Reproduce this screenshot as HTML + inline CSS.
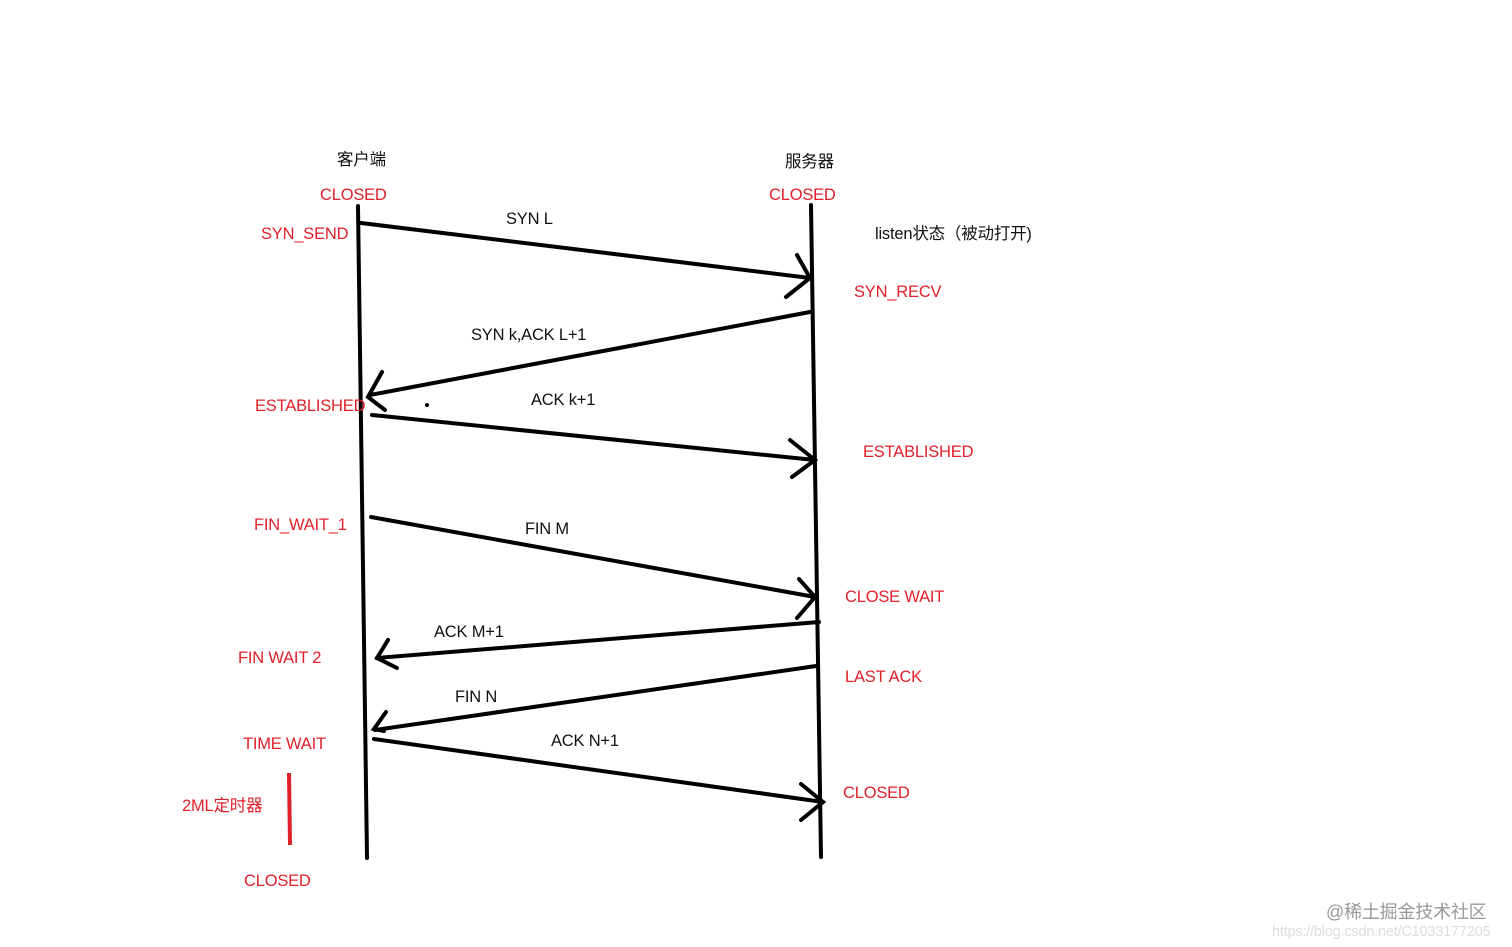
<!DOCTYPE html>
<html><head><meta charset="utf-8"><style>
html,body{margin:0;padding:0;background:#fff;width:1512px;height:947px;overflow:hidden}
svg text{font-family:"Liberation Sans","Noto Sans CJK SC",sans-serif;font-size:16.5px;letter-spacing:-0.2px}
.r{fill:#e0202a}
.k{fill:#111}
</style></head><body>
<svg width="1512" height="947" viewBox="0 0 1512 947" xmlns="http://www.w3.org/2000/svg">
<g stroke="#000" stroke-width="4" fill="none" stroke-linecap="round">
<line x1="358" y1="206" x2="367" y2="858"/>
<line x1="811" y1="205" x2="821" y2="857"/>
<line x1="361" y1="223" x2="810" y2="278"/>
<polyline points="797,255 810,278 786,297"/>
<line x1="810" y1="312" x2="370" y2="395"/>
<polyline points="382,372 368,397 385,410"/>
<line x1="372" y1="415" x2="815" y2="460"/>
<polyline points="790,440 815,460 792,477"/>
<line x1="371" y1="517" x2="815" y2="597"/>
<polyline points="799,579 815,597 797,618"/>
<line x1="819" y1="622" x2="377" y2="658"/>
<polyline points="388,640 377,658 397,668"/>
<line x1="816" y1="666" x2="375" y2="730"/>
<polyline points="386,712 374,729 384,731"/>
<line x1="374" y1="739" x2="823" y2="802"/>
<polyline points="801,784 823,802 801,820"/>
</g>
<circle cx="427" cy="405" r="2" fill="#000"/>
<line x1="289" y1="773" x2="290" y2="845" stroke="#e0202a" stroke-width="4"/>
<text x="337" y="165" class="k">客户端</text>
<text x="785" y="167" class="k">服务器</text>
<text x="320" y="200" class="r">CLOSED</text>
<text x="769" y="200" class="r">CLOSED</text>
<text x="261" y="239" class="r">SYN_SEND</text>
<text x="506" y="224" class="k">SYN  L</text>
<text x="875" y="239" class="k">listen状态（被动打开)</text>
<text x="854" y="297" class="r">SYN_RECV</text>
<text x="471" y="340" class="k">SYN k,ACK L+1</text>
<text x="255" y="411" class="r">ESTABLISHED</text>
<text x="531" y="405" class="k">ACK k+1</text>
<text x="863" y="457" class="r">ESTABLISHED</text>
<text x="254" y="530" class="r">FIN_WAIT_1</text>
<text x="525" y="534" class="k">FIN M</text>
<text x="845" y="602" class="r">CLOSE  WAIT</text>
<text x="434" y="637" class="k">ACK M+1</text>
<text x="238" y="663" class="r">FIN  WAIT  2</text>
<text x="845" y="682" class="r">LAST  ACK</text>
<text x="455" y="702" class="k">FIN N</text>
<text x="243" y="749" class="r">TIME  WAIT</text>
<text x="551" y="746" class="k">ACK N+1</text>
<text x="843" y="798" class="r">CLOSED</text>
<text x="182" y="811" class="r">2ML定时器</text>
<text x="244" y="886" class="r">CLOSED</text>
<text x="1326" y="918" fill="#999" style="font-size:18px">@稀土掘金技术社区</text>
<text x="1272" y="936" fill="#ddd" style="font-size:14.5px">https://blog.csdn.net/C1033177205</text>
</svg>
</body></html>
